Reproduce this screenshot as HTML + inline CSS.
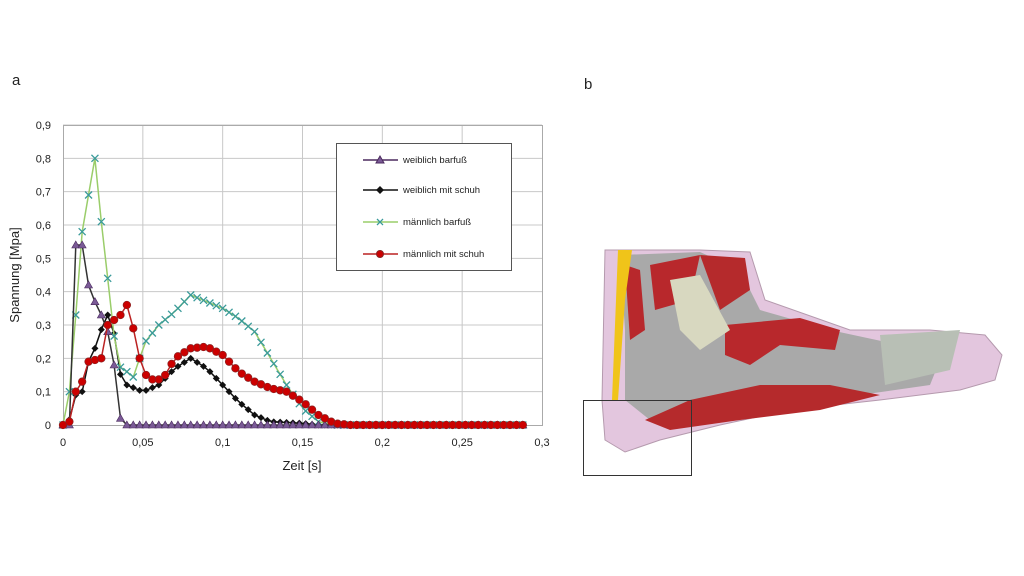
<!DOCTYPE html>
<html><head><meta charset="utf-8"><style>
html,body{margin:0;padding:0;background:#fff;width:1024px;height:576px;overflow:hidden}
svg{position:absolute;left:0;top:0}
text{font-family:"Liberation Sans",sans-serif;fill:#222}
</style></head><body>
<svg id="s" width="1024" height="576" viewBox="0 0 1024 576">
<text x="12" y="85" font-size="15">a</text>
<text x="584" y="89" font-size="15">b</text>
<g id="grid" stroke="#c8c8c8" stroke-width="1"></g>
<rect x="63.5" y="125.5" width="479" height="300" fill="none" stroke="#aaa"/>
<g id="ticks" font-size="11"></g>
<text x="302" y="470" font-size="13" text-anchor="middle">Zeit [s]</text>
<text transform="translate(19,275) rotate(-90)" font-size="13" text-anchor="middle">Spannung [Mpa]</text>
<g id="series"></g>
<rect x="336.5" y="143.5" width="175" height="127" fill="#fff" stroke="#555"/>
<g font-size="9.5">
<line x1="363" y1="160" x2="398" y2="160" stroke="#4b2a5e" stroke-width="1.5"/><polygon points="380,156 384,163 376,163" fill="#7a5a96" stroke="#4b2a5e"/><text x="403" y="163">weiblich barfuß</text>
<line x1="363" y1="190" x2="398" y2="190" stroke="#111" stroke-width="1.5"/><polygon points="380,186 384,190 380,194 376,190" fill="#111"/><text x="403" y="193">weiblich mit schuh</text>
<line x1="363" y1="222" x2="398" y2="222" stroke="#9acd6a" stroke-width="1.5"/><path d="M377,219 l6,6 M383,219 l-6,6" stroke="#3a9a9a" stroke-width="1.3"/><text x="403" y="225">männlich barfuß</text>
<line x1="363" y1="254" x2="398" y2="254" stroke="#b22" stroke-width="1.5"/><circle cx="380" cy="254" r="3.5" fill="#c00" stroke="#822"/><text x="403" y="257">männlich mit schuh</text>
</g>
<!-- foot -->
<g>
<path d="M605,250 L700,250 L750,252 L765,300 L850,330 L930,330 L985,335 L1002,355 L995,380 L960,390 L880,400 L790,410 L720,425 L660,440 L625,452 L605,440 L602,400 Z" fill="#e3c6de" stroke="#b59aae"/>
<path d="M620,255 L700,252 L740,270 L760,310 L830,330 L900,345 L940,360 L930,385 L860,395 L780,400 L700,420 L650,420 L625,400 L625,330 Z" fill="#a9a9a9"/>
<path d="M650,265 L700,255 L690,300 L655,310 Z" fill="#b8282c"/>
<path d="M700,255 L745,258 L750,290 L720,310 Z" fill="#b52a2c"/>
<path d="M725,325 L800,318 L840,330 L835,350 L780,345 L750,365 L725,355 Z" fill="#b8282c"/>
<path d="M645,420 L690,400 L760,385 L830,385 L880,395 L820,410 L740,420 L670,430 Z" fill="#b52a2c"/>
<path d="M625,265 L640,270 L645,330 L630,340 Z" fill="#b8282c"/>
<path d="M618,250 L632,250 L625,300 L618,400 L612,400 Z" fill="#f0c419"/>
<path d="M880,335 L960,330 L950,370 L885,385 Z" fill="#b8bfb5"/>
<path d="M670,280 L700,275 L730,330 L700,350 L680,330 Z" fill="#d8d8c0"/>
<rect x="583.5" y="400.5" width="108" height="75" fill="none" stroke="#333"/>
</g>
</svg>
<script>
var NS="http://www.w3.org/2000/svg";
function X(t){return 63+t*1596.67}
function Y(v){return 425-v*333.33}
function el(tag,a,p){var e=document.createElementNS(NS,tag);for(var k in a)e.setAttribute(k,a[k]);p.appendChild(e);return e}
var g=document.getElementById('grid'),tk=document.getElementById('ticks'),S=document.getElementById('series');
for(var i=1;i<=9;i++){var y=Y(i/10);el('line',{x1:63,x2:542,y1:y,y2:y},g)}
for(var i=1;i<6;i++){var x=X(i*0.05);el('line',{x1:x,x2:x,y1:125,y2:425},g)}
for(var i=0;i<=9;i++){var t=el('text',{x:51,y:Y(i/10)+4,'text-anchor':'end'},tk);t.textContent=i==0?'0':'0,'+i}
var xl=['0','0,05','0,1','0,15','0,2','0,25','0,3'];
for(var i=0;i<7;i++){var t=el('text',{x:X(i*0.05),y:446,'text-anchor':'middle'},tk);t.textContent=xl[i]}
function interp(k,t){if(t>=k[k.length-1][0])return k[k.length-1][1];for(var i=1;i<k.length;i++)if(t<=k[i][0]){var a=k[i-1],b=k[i];return a[1]+(b[1]-a[1])*(t-a[0])/(b[0]-a[0])}return 0}
var series=[
{k:[[0,0],[0.005,0.02],[0.008,0.09],[0.012,0.1],[0.016,0.19],[0.02,0.23],[0.025,0.3],[0.03,0.35],[0.035,0.16],[0.04,0.12],[0.05,0.1],[0.06,0.12],[0.07,0.17],[0.08,0.2],[0.09,0.17],[0.1,0.12],[0.11,0.07],[0.12,0.03],[0.13,0.01],[0.15,0.005],[0.16,0]],line:'#111',m:'d'},
{k:[[0,0],[0.004,0.1],[0.008,0.33],[0.012,0.58],[0.02,0.8],[0.024,0.61],[0.028,0.44],[0.034,0.18],[0.04,0.16],[0.045,0.14],[0.05,0.24],[0.06,0.3],[0.07,0.34],[0.08,0.39],[0.09,0.37],[0.1,0.35],[0.11,0.32],[0.12,0.28],[0.13,0.2],[0.14,0.12],[0.15,0.05],[0.16,0.01],[0.17,0]],line:'#9acd6a',m:'x'},
{k:[[0,0],[0.004,0],[0.008,0.54],[0.012,0.54],[0.016,0.42],[0.02,0.37],[0.024,0.33],[0.028,0.28],[0.032,0.18],[0.036,0.02],[0.04,0]],line:'#333',m:'t'},
{k:[[0,0],[0.004,0.01],[0.008,0.1],[0.012,0.13],[0.016,0.19],[0.024,0.2],[0.028,0.3],[0.036,0.33],[0.04,0.36],[0.044,0.29],[0.048,0.2],[0.052,0.15],[0.058,0.13],[0.064,0.15],[0.07,0.2],[0.08,0.23],[0.09,0.235],[0.1,0.21],[0.11,0.16],[0.12,0.13],[0.13,0.11],[0.14,0.1],[0.15,0.07],[0.16,0.03],[0.17,0.005],[0.18,0]],line:'#b22',m:'o'}
];
series.forEach(function(s){
 var pts=[],ts=[];for(var i=0;i<=72;i++)ts.push(i*0.004);
 ts.forEach(function(t){pts.push(X(t).toFixed(1)+','+Y(interp(s.k,t)).toFixed(1))});
 el('polyline',{points:pts.join(' '),fill:'none',stroke:s.line,'stroke-width':1.5},S);
 ts.forEach(function(t){var x=X(t),y=Y(interp(s.k,t));
  if(s.m=='d')el('polygon',{points:[x,y-3.5,x+3.5,y,x,y+3.5,x-3.5,y].join(','),fill:'#111'},S);
  else if(s.m=='x')el('path',{d:'M'+(x-3.5)+','+(y-3.5)+'l7,7M'+(x+3.5)+','+(y-3.5)+'l-7,7',stroke:'#3a9a9a','stroke-width':1.3},S);
  else if(s.m=='t')el('polygon',{points:[x,y-4,x+4,y+3,x-4,y+3].join(','),fill:'#7a5a96',stroke:'#4b2a5e','stroke-width':0.6},S);
  else el('circle',{cx:x,cy:y,r:3.8,fill:'#c00',stroke:'#822','stroke-width':0.7},S);
 });
});
</script>
</body></html>
